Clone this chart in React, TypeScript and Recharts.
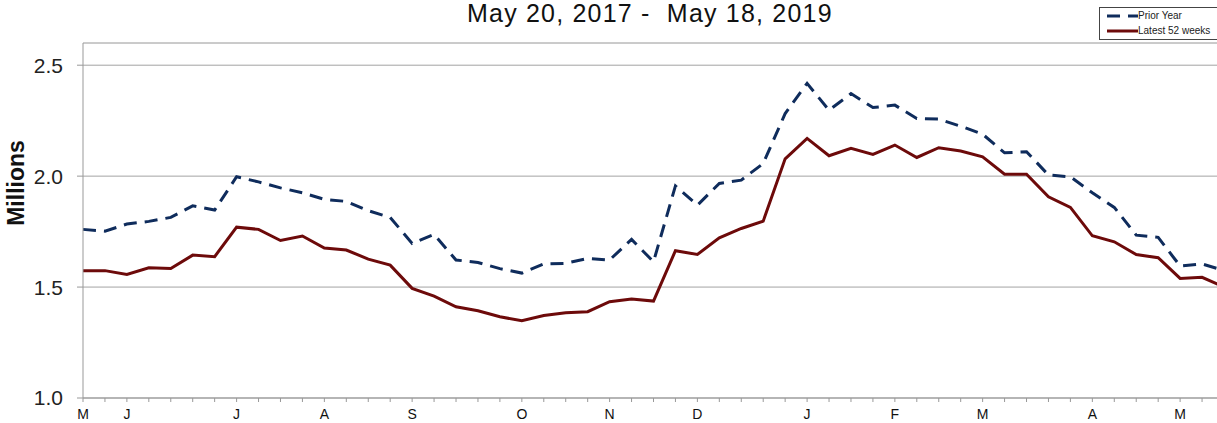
import {
  Line,
  XAxis,
  YAxis,
  LineChart,
  CartesianGrid,
  ReferenceLine,
} from "recharts";

// weekly values, in millions (53 weeks, last one sits just past the right edge)
const priorYear = [
  1.76, 1.752, 1.784, 1.796, 1.814, 1.866, 1.847, 1.997, 1.974, 1.947, 1.925,
  1.895, 1.886, 1.844, 1.814, 1.697, 1.737, 1.622, 1.611, 1.583, 1.563, 1.604,
  1.607, 1.629, 1.622, 1.715, 1.614, 1.956, 1.869, 1.967, 1.982, 2.057, 2.282,
  2.418, 2.297, 2.372, 2.309, 2.32, 2.26, 2.257, 2.225, 2.189, 2.105, 2.11,
  2.005, 1.997, 1.925, 1.859, 1.734, 1.724, 1.595, 1.604, 1.575,
];

const latest52 = [
  1.574, 1.574, 1.557, 1.587, 1.584, 1.644, 1.637, 1.77, 1.76, 1.71, 1.73,
  1.676, 1.667, 1.626, 1.599, 1.494, 1.459, 1.411, 1.393, 1.366, 1.348, 1.372,
  1.384, 1.389, 1.434, 1.446, 1.437, 1.664, 1.647, 1.722, 1.764, 1.797, 2.078,
  2.17, 2.092, 2.125, 2.098, 2.14, 2.084, 2.128, 2.113, 2.087, 2.009, 2.009,
  1.907, 1.859, 1.731, 1.704, 1.647, 1.632, 1.539, 1.544, 1.5,
];

// month initials and the week they sit on
const monthWeeks = [0, 2, 7, 11, 15, 20, 24, 28, 33, 37, 41, 46, 50];
const monthLabels = ["M", "J", "J", "A", "S", "O", "N", "D", "J", "F", "M", "A", "M"];

const yTicks = [1.0, 1.5, 2.0, 2.5];

const PRIOR_COLOR = "#0f2c5c";
const LATEST_COLOR = "#6d0a0a";

const weeks = priorYear.map((_, i) => i);
const data = weeks.map((w) => ({
  week: w,
  prior: priorYear[w],
  latest: latest52[w],
}));

const monthFor = (w: number) => {
  const k = monthWeeks.indexOf(w);
  return k >= 0 ? monthLabels[k] : "";
};

const MillionsLabel = () => (
  <text
    x={0}
    y={0}
    transform="translate(24, 183) rotate(-90)"
    textAnchor="middle"
    fontSize={23}
    fontWeight="bold"
    fill="#111"
  >
    Millions
  </text>
);

const LegendBox = () => (
  <div
    style={{
      position: "absolute",
      left: 1099,
      top: 7,
      width: 140,
      height: 33,
      border: "1px solid #444",
      background: "#fff",
      fontSize: 10,
      color: "#222",
      boxSizing: "border-box",
      zIndex: 1,
    }}
  >
    <div style={{ display: "flex", alignItems: "center", height: 15 }}>
      <svg width={38} height={6}>
        <line
          x1={7}
          y1={3}
          x2={38}
          y2={3}
          stroke={PRIOR_COLOR}
          strokeWidth={3}
          strokeDasharray="13 8"
        />
      </svg>
      <span>Prior Year</span>
    </div>
    <div style={{ display: "flex", alignItems: "center", height: 15 }}>
      <svg width={38} height={6}>
        <line x1={7} y1={3} x2={38} y2={3} stroke={LATEST_COLOR} strokeWidth={3} />
      </svg>
      <span>Latest 52 weeks</span>
    </div>
  </div>
);

const App = () => {
  return (
    <div
      style={{
        position: "absolute",
        left: 0,
        top: 0,
        width: 1217,
        height: 423,
        overflow: "hidden",
        background: "#fff",
        fontFamily: "'Liberation Sans', Arial, sans-serif",
      }}
    >
      <div
        style={{
          position: "absolute",
          left: 467,
          top: 1,
          fontSize: 25,
          lineHeight: 1,
          letterSpacing: 1.2,
          whiteSpace: "pre",
          color: "#111",
          zIndex: 1,
        }}
      >
        {"May 20, 2017 -  May 18, 2019"}
      </div>
      <LegendBox />
      <LineChart
        width={1240}
        height={423}
        data={data}
        margin={{ top: 43, right: 16, left: 0, bottom: 0 }}
      >
        <CartesianGrid horizontal vertical={false} stroke="#a3a3a3" />
        <ReferenceLine y={2.6} stroke="#c4c4c4" />
        <XAxis
          type="number"
          dataKey="week"
          domain={[0, 52]}
          ticks={weeks}
          interval={0}
          tickFormatter={monthFor}
          tickSize={4}
          tickMargin={7}
          height={25}
          stroke="#999"
          tick={{ fontSize: 14, fill: "#111" }}
        />
        <YAxis
          type="number"
          domain={[1, 2.6]}
          ticks={yTicks}
          allowDataOverflow
          tickFormatter={(v: number) => v.toFixed(1)}
          width={83}
          tickSize={6}
          tickMargin={14}
          stroke="#999"
          tick={{ fontSize: 21, fill: "#222" }}
          label={<MillionsLabel />}
        />
        <Line
          type="linear"
          dataKey="prior"
          name="Prior Year"
          stroke={PRIOR_COLOR}
          strokeWidth={3}
          strokeDasharray="13 8"
          dot={false}
          isAnimationActive={false}
        />
        <Line
          type="linear"
          dataKey="latest"
          name="Latest 52 weeks"
          stroke={LATEST_COLOR}
          strokeWidth={3}
          dot={false}
          isAnimationActive={false}
        />
      </LineChart>
    </div>
  );
};

export default App;
